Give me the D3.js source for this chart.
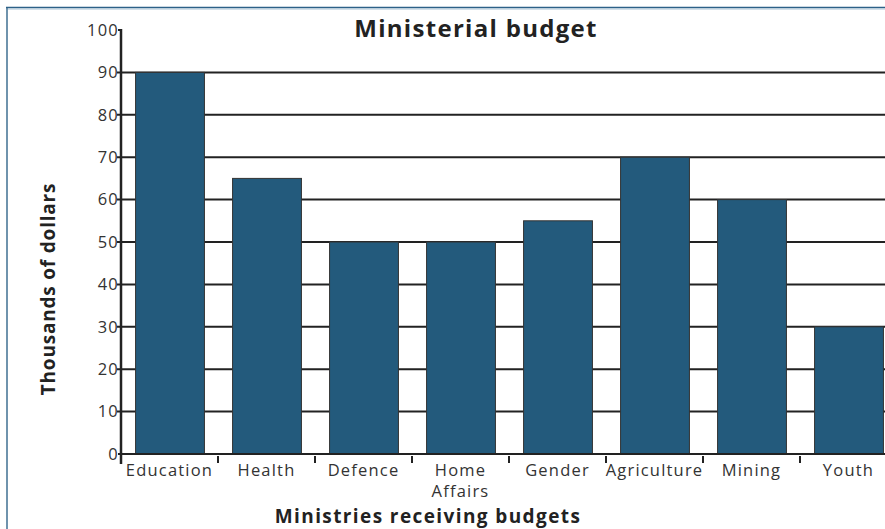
<!DOCTYPE html>
<html lang="en">
<head>
    <meta charset="UTF-8">
    <title>Ministerial budget</title>
    <script src="https://cdn.jsdelivr.net/npm/d3@7"></script>
    <style>
        html, body { margin: 0; padding: 0; overflow: hidden; background: #fff; }
        svg { display: block; }
        text { font-family: "Open Sans", Lato, sans-serif; fill: #222; }
        .tick-label { font-size: 16.5px; letter-spacing: 1.2px; fill: #333; }
        .title { font-size: 24px; font-weight: bold; letter-spacing: 1.3px; }
        .axis-title { font-size: 19px; font-weight: bold; letter-spacing: 1.4px; }
        .y-title { letter-spacing: 0.8px; }
    </style>
</head>
<body>
<svg width="885" height="529"></svg>
<script>
    var ministries = ["Education", "Health", "Defence", "Home Affairs", "Gender", "Agriculture", "Mining", "Youth"];
    var budgets = [90, 65, 50, 50, 55, 70, 60, 30];
    var yTicks = [0, 10, 20, 30, 40, 50, 60, 70, 80, 90, 100];

    var svg = d3.select("svg");

    // frame
    svg.append("line").attr("x1", 7).attr("x2", 7).attr("y1", 7).attr("y2", 529)
        .attr("stroke", "#6f93ad").attr("stroke-width", 2);
    svg.append("line").attr("x1", 6).attr("x2", 885).attr("y1", 7.5).attr("y2", 7.5)
        .attr("stroke", "#2d6188").attr("stroke-width", 1.5);
    svg.append("line").attr("x1", 8).attr("x2", 885).attr("y1", 9).attr("y2", 9)
        .attr("stroke", "#a9c2d4").attr("stroke-width", 1);

    var x0 = 121, x1 = 897;
    var y = d3.scaleLinear().domain([0, 100]).range([454, 30]);
    var band = d3.scaleBand().domain(ministries).range([x0, x1]);
    var xBar = d3.scaleBand().domain(ministries).range([x0, x1])
        .paddingInner(0.29).paddingOuter(0.145);

    // gridlines
    svg.append("g").selectAll("line")
        .data(yTicks.filter(function(d) { return d > 0 && d < 100; }))
        .enter().append("line")
        .attr("x1", x0 - 4).attr("x2", 885)
        .attr("y1", function(d) { return y(d); })
        .attr("y2", function(d) { return y(d); })
        .attr("stroke", "#222").attr("stroke-width", 2);

    // bars
    svg.append("g").selectAll("rect")
        .data(ministries)
        .enter().append("rect")
        .attr("x", function(d) { return xBar(d) + 0.5; })
        .attr("width", xBar.bandwidth())
        .attr("y", function(d, i) { return y(budgets[i]); })
        .attr("height", function(d, i) { return y(0) - y(budgets[i]); })
        .attr("fill", "#235a7c")
        .attr("stroke", "#333").attr("stroke-width", 1);

    // y axis
    svg.append("line").attr("x1", x0).attr("x2", x0).attr("y1", y(100) - 1).attr("y2", y(0) + 10)
        .attr("stroke", "#222").attr("stroke-width", 2.5);
    svg.append("line").attr("x1", x0 - 3).attr("x2", x0).attr("y1", y(100)).attr("y2", y(100))
        .attr("stroke", "#222").attr("stroke-width", 2);
    svg.append("line").attr("x1", x0 - 3).attr("x2", x0).attr("y1", y(0)).attr("y2", y(0))
        .attr("stroke", "#222").attr("stroke-width", 2);
    svg.append("g").selectAll("text")
        .data(yTicks)
        .enter().append("text")
        .attr("class", "tick-label")
        .attr("x", x0 - 2)
        .attr("y", function(d) { return y(d); })
        .attr("dy", "0.35em")
        .attr("text-anchor", "end")
        .text(function(d) { return d; });

    // x axis
    svg.append("line").attr("x1", x0).attr("x2", 885).attr("y1", y(0)).attr("y2", y(0))
        .attr("stroke", "#222").attr("stroke-width", 2);
    svg.append("g").selectAll("line")
        .data(ministries.slice(1))
        .enter().append("line")
        .attr("x1", function(d) { return band(d); })
        .attr("x2", function(d) { return band(d); })
        .attr("y1", y(0) + 2).attr("y2", y(0) + 9)
        .attr("stroke", "#222").attr("stroke-width", 2);

    var xl = svg.append("g").selectAll("text")
        .data(ministries)
        .enter().append("text")
        .attr("class", "tick-label")
        .attr("x", function(d) { return band(d) + band.bandwidth() / 2; })
        .attr("y", 476)
        .attr("text-anchor", "middle");
    xl.each(function(d) {
        var words = d.split(" ");
        var t = d3.select(this);
        words.forEach(function(w, i) {
            t.append("tspan")
                .attr("x", band(d) + band.bandwidth() / 2)
                .attr("dy", i === 0 ? 0 : 21)
                .text(w);
        });
    });

    // titles
    svg.append("text").attr("class", "title")
        .attr("x", 476).attr("y", 37).attr("text-anchor", "middle")
        .text("Ministerial budget");
    svg.append("text").attr("class", "axis-title")
        .attr("x", 428).attr("y", 523).attr("text-anchor", "middle")
        .text("Ministries receiving budgets");
    svg.append("text").attr("class", "axis-title y-title")
        .attr("transform", "translate(55,289) rotate(-90)")
        .attr("text-anchor", "middle")
        .text("Thousands of dollars");
</script>
</body>
</html>
